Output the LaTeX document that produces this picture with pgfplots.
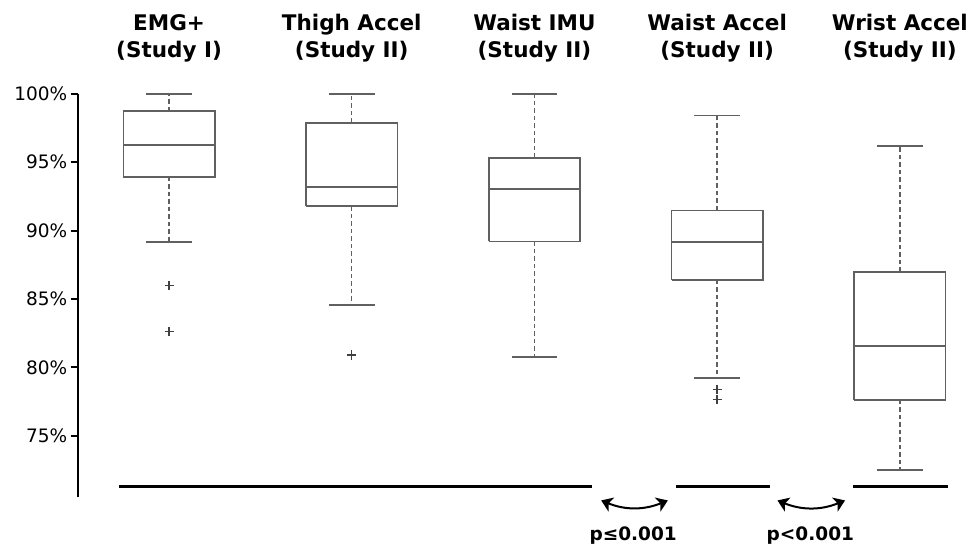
\documentclass[border=0pt]{standalone}
\usepackage{fontspec}
\setmainfont{DejaVu Sans}
\usepackage{pgfplots}
\pgfplotsset{compat=1.18}
\usetikzlibrary{arrows.meta}
\definecolor{boxgray}{HTML}{606060}
\begin{document}
\begin{tikzpicture}
\begin{axis}[
  name=ax,
  scale only axis,
  width=904.4pt, height=403.6pt,
  xmin=0.5, xmax=5.45, ymin=70.5, ymax=100,
  axis x line=none, axis y line=left,
  y axis line style={-, line width=2pt, black},
  ytick={75,80,85,90,95,100},
  yticklabels={75\%,80\%,85\%,90\%,95\%,100\%},
  yticklabel style={font=\fontsize{18.5}{20}\selectfont, text=black},
  tick align=outside, major tick length=7pt,
  ytick style={line width=2pt, black},
  clip=false,
  unbounded coords=jump,
]
% boxes and medians (lower quartile, upper quartile, median)
\addplot[boxgray, line width=1.7pt, no marks] coordinates {
 (0.75,93.93) (1.25,93.93) (1.25,98.73) (0.75,98.73) (0.75,93.93) (0.75,nan)
 (0.75,96.27) (1.25,96.27) (1.25,nan)
 (1.75,91.79) (2.25,91.79) (2.25,97.86) (1.75,97.86) (1.75,91.79) (1.75,nan)
 (1.75,93.18) (2.25,93.18) (2.25,nan)
 (2.75,89.20) (3.25,89.20) (3.25,95.32) (2.75,95.32) (2.75,89.20) (2.75,nan)
 (2.75,93.03) (3.25,93.03) (3.25,nan)
 (3.75,86.40) (4.25,86.40) (4.25,91.47) (3.75,91.47) (3.75,86.40) (3.75,nan)
 (3.75,89.16) (4.25,89.16) (4.25,nan)
 (4.75,77.63) (5.25,77.63) (5.25,86.99) (4.75,86.99) (4.75,77.63) (4.75,nan)
 (4.75,81.56) (5.25,81.56)
};
% whiskers (dashed)
\addplot[boxgray, line width=1.4pt, dash pattern=on 4.5pt off 3pt, no marks] coordinates {
 (1,98.73) (1,100) (1,nan) (1,93.93) (1,89.16) (1,nan)
 (2,97.86) (2,100) (2,nan) (2,91.79) (2,84.58) (2,nan)
 (3,95.32) (3,100) (3,nan) (3,89.20) (3,80.78) (3,nan)
 (4,91.47) (4,98.41) (4,nan) (4,86.40) (4,79.24) (4,nan)
 (5,86.99) (5,96.20) (5,nan) (5,77.63) (5,72.51)
};
% whisker caps
\addplot[boxgray, line width=1.7pt, no marks] coordinates {
 (0.875,100) (1.125,100) (1.125,nan) (0.875,89.16) (1.125,89.16) (1.125,nan)
 (1.875,100) (2.125,100) (2.125,nan) (1.875,84.58) (2.125,84.58) (2.125,nan)
 (2.875,100) (3.125,100) (3.125,nan) (2.875,80.78) (3.125,80.78) (3.125,nan)
 (3.875,98.41) (4.125,98.41) (4.125,nan) (3.875,79.24) (4.125,79.24) (4.125,nan)
 (4.875,96.20) (5.125,96.20) (5.125,nan) (4.875,72.51) (5.125,72.51)
};
% outliers
\addplot[only marks, mark=+, mark size=4.5pt, mark options={line width=1.4pt, draw=black!75}] coordinates {
 (1,86.00) (1,82.63) (2,80.87) (2,80.95) (4,78.39) (4,77.65)
};

% titles
\node[anchor=base, font=\fontsize{21.5}{26}\selectfont\bfseries, inner sep=0pt] at (axis cs:1,104.63) {EMG+};
\node[anchor=base, font=\fontsize{21.5}{26}\selectfont\bfseries, inner sep=0pt] at (axis cs:1,102.68) {(Study I)};
\node[anchor=base, font=\fontsize{21.5}{26}\selectfont\bfseries, inner sep=0pt] at (axis cs:2,104.63) {Thigh Accel};
\node[anchor=base, font=\fontsize{21.5}{26}\selectfont\bfseries, inner sep=0pt] at (axis cs:2,102.68) {(Study II)};
\node[anchor=base, font=\fontsize{21.5}{26}\selectfont\bfseries, inner sep=0pt] at (axis cs:3,104.63) {Waist IMU};
\node[anchor=base, font=\fontsize{21.5}{26}\selectfont\bfseries, inner sep=0pt] at (axis cs:3,102.68) {(Study II)};
\node[anchor=base, font=\fontsize{21.5}{26}\selectfont\bfseries, inner sep=0pt] at (axis cs:4,104.63) {Waist Accel};
\node[anchor=base, font=\fontsize{21.5}{26}\selectfont\bfseries, inner sep=0pt] at (axis cs:4,102.68) {(Study II)};
\node[anchor=base, font=\fontsize{21.5}{26}\selectfont\bfseries, inner sep=0pt] at (axis cs:5,104.63) {Wrist Accel};
\node[anchor=base, font=\fontsize{21.5}{26}\selectfont\bfseries, inner sep=0pt] at (axis cs:5,102.68) {(Study II)};

% group lines
\draw[line width=2.4pt, black] (axis cs:0.726,71.29) -- (axis cs:3.315,71.29);
\draw[line width=2.4pt, black] (axis cs:3.775,71.29) -- (axis cs:4.29,71.29);
\draw[line width=2.4pt, black] (axis cs:4.744,71.29) -- (axis cs:5.262,71.29);

% arrows
\draw[line width=2pt, {Stealth[length=11pt,width=15pt,inset=3pt]}-{Stealth[length=11pt,width=15pt,inset=3pt]}]
  (axis cs:3.365,70.27) to[bend right=22] (axis cs:3.73,70.27);
\draw[line width=2pt, {Stealth[length=11pt,width=15pt,inset=3pt]}-{Stealth[length=11pt,width=15pt,inset=3pt]}]
  (axis cs:4.33,70.27) to[bend right=22] (axis cs:4.70,70.27);

\node[anchor=base, font=\fontsize{18.5}{20}\selectfont\bfseries, inner sep=0pt] at (axis cs:3.54,67.35) {p≤0.001};
\node[anchor=base, font=\fontsize{18.5}{20}\selectfont\bfseries, inner sep=0pt] at (axis cs:4.51,67.35) {p<0.001};
\end{axis}
\pgfresetboundingbox
\path[use as bounding box] ([shift={(-77.7pt,-49.7pt)}]ax.south west) rectangle ([shift={(893.3pt,497.3pt)}]ax.south west);
\end{tikzpicture}
\end{document}
